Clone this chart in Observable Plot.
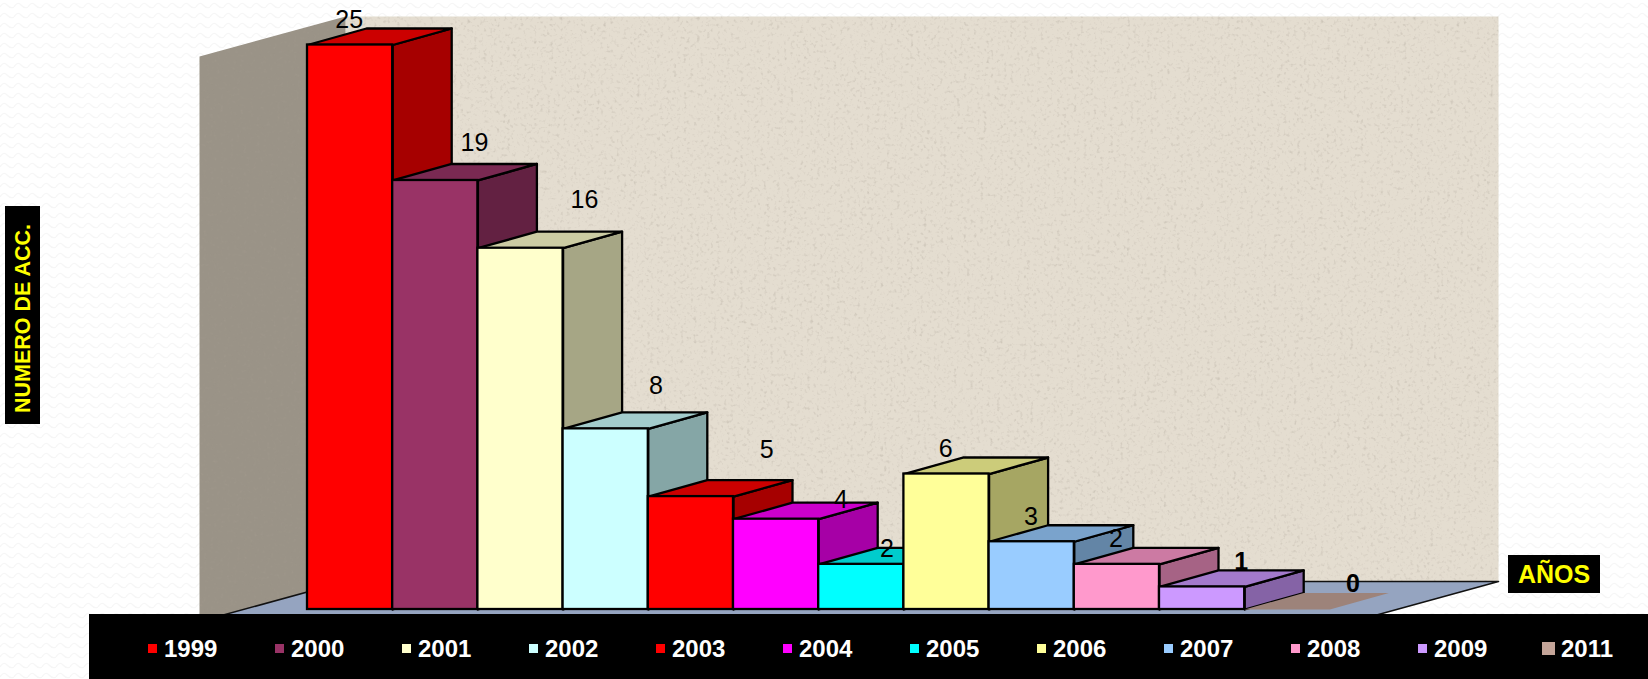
<!DOCTYPE html>
<html><head><meta charset="utf-8">
<script src="https://cdn.jsdelivr.net/npm/d3@7"></script>
<script src="https://cdn.jsdelivr.net/npm/@observablehq/plot@0.6"></script>
<style>
html,body{margin:0;padding:0;width:1648px;height:679px;overflow:hidden;font-family:"Liberation Sans",Arial,sans-serif;
background-color:#fff;
background-image:url("data:image/svg+xml,%3Csvg xmlns='http://www.w3.org/2000/svg' width='14' height='10'%3E%3Cpath d='M0 7 Q3.5 1 7 5 T14 7' fill='none' stroke='%23f6f6f6' stroke-width='1.2'/%3E%3C/svg%3E");}
#chart{position:absolute;left:0;top:0}
.box{position:absolute;background:#000;color:#ff0;font-weight:700;display:flex;align-items:center;justify-content:center;white-space:nowrap}
#ytitle{left:5px;top:206px;width:35px;height:218px}
#ytitle span{transform:translate(1px,3px) rotate(-90deg);font-size:21.5px;display:block}
#xtitle{left:1508px;top:555px;width:92px;height:38px;font-size:25px}
#legend{position:absolute;left:89px;top:614px;width:1559px;height:65px;background:#000}
.item{position:absolute;top:0;height:65px;color:#fff;font-weight:700;font-size:24px}
.item i{position:absolute;display:block}
.item b{position:absolute;line-height:26px}
</style></head>
<body>
<svg width="0" height="0" style="position:absolute">
<defs><filter id="speckle" x="0" y="0" width="100%" height="100%">
<feTurbulence type="fractalNoise" baseFrequency="0.3" numOctaves="2" seed="7" result="n"/>
<feColorMatrix in="n" type="matrix" values="0 0 0 0 0.38  0 0 0 0 0.34  0 0 0 0 0.28  1.6 1.6 0 0 -1.68" result="s"/>
<feComponentTransfer in="s" result="t"><feFuncA type="table" tableValues="0 0.45"/></feComponentTransfer>
<feComposite in="t" in2="SourceAlpha" operator="in" result="c"/>
<feMerge><feMergeNode in="SourceGraphic"/><feMergeNode in="c"/></feMerge>
</filter></defs>
</svg>
<div id="chart"></div>
<div class="box" id="ytitle"><span>NUMERO DE ACC.</span></div>
<div class="box" id="xtitle">AÑOS</div>
<div id="legend"></div>
<script>
const years = ["1999","2000","2001","2002","2003","2004","2005","2006","2007","2008","2009","2011"];
const accidents = [25,19,16,8,5,4,2,6,3,2,1,0];
const colors = ["#FF0000","#993366","#FFFFCC","#CCFFFF","#FF0000","#FF00FF","#00FFFF","#FFFF99","#99CCFF","#FF99CC","#CC99FF","#C4A498"];
const labelShiftX = [-.01,.46,.75,.59,.89,.76,.3,-.01,-.01,-.01,.46,.77];
const labelShiftY = [1.1,1.68,2.15,1.92,2.08,.87,.66,1.09,1.1,1.14,1.12,1.15];

// layout: pixel geometry of the drawing → linear scales
const W=1648,H=679, x0=307, ux=85.2, y0=609, uy=22.58;
const depthX=59/ux, depthY=16.5/uy;
const px=p=>(p-x0)/ux, py=p=>(y0-p)/uy;
const shade=(c,k)=>{const r=d3.rgb(c);return d3.rgb(r.r*k,r.g*k,r.b*k).formatHex();};
const poly=(id,fill,pts)=>[...pts,pts[0]].map(([x,y])=>({id,fill,x,y}));
const face=(data,opts={})=>Plot.line(data,{x:"x",y:"y",z:"id",fill:"fill",stroke:"#000",strokeWidth:2.3,strokeLinejoin:"round",curve:"linear",...opts});

const wx0=199, wx1=345, wx2=1498, wTop=16, wFront=56, fy=581, fFront=621;
const backWall=poly("back","#E4DDD0",[[px(wx1),py(wTop)],[px(wx2),py(wTop)],[px(wx2),py(fy)],[px(wx1),py(fy)]]);
const sideWall=poly("side","#9A9387",[[px(wx0),py(wFront)],[px(wx1),py(wTop)],[px(wx1),py(fy)],[px(wx0),py(fFront)]]);
const floor=poly("floor","#95A4C0",[[px(wx1),py(fy)],[px(wx2),py(fy)],[px(wx2-145.5),py(fFront)],[px(wx0),py(fFront)]]);

const barMarks=accidents.map((v,i)=>{
  const c=colors[i];
  if(v===0) return face(poly("slab"+i,shade(c,.8),[[i,0],[i+depthX,depthY],[i+1+depthX,depthY],[i+1,0]]),{stroke:"none"});
  return [
    face(poly("side"+i,shade(c,.65),[[i+1,0],[i+1+depthX,depthY],[i+1+depthX,v+depthY],[i+1,v]])),
    face(poly("top"+i,shade(c,.8),[[i,v],[i+depthX,v+depthY],[i+1+depthX,v+depthY],[i+1,v]])),
    Plot.rectY([v],{x1:()=>i,x2:()=>i+1,y1:()=>0,y2:d=>d,fill:c,stroke:"#000",strokeWidth:2.3})
  ];
});
const labels=accidents.map((v,i)=>({v,i,x:i+.5+labelShiftX[i],y:v+labelShiftY[i]}));

const chart=Plot.plot({
  width:W,height:H,margin:0,
  style:{background:"transparent",fontFamily:'"Liberation Sans",Arial,sans-serif'},
  x:{type:"linear",domain:[px(0),px(W)],range:[0,W],axis:null},
  y:{type:"linear",domain:[py(0),py(H)],range:[0,H],axis:null},
  marks:[
    face(backWall,{stroke:"none",imageFilter:"url(#speckle)"}),
    face(sideWall,{stroke:"none",imageFilter:"url(#speckle)"}),
    face(floor,{strokeWidth:1.6,stroke:"#111"}),
    barMarks,
    Plot.text(labels.filter(d=>d.v>1),{x:"x",y:"y",text:d=>String(d.v),fontSize:25,fill:"#000",textAnchor:"middle"}),
    Plot.text(labels.filter(d=>d.v<=1),{x:"x",y:"y",text:d=>String(d.v),fontSize:25,fontWeight:700,fill:"#000",textAnchor:"middle"})
  ]
});
document.getElementById("chart").append(chart);

const legend=document.getElementById("legend");
years.forEach((y,i)=>{
  const big=i===years.length-1, left=148-89+127*i;
  const it=document.createElement("div");it.className="item";it.style.left=left+"px";
  const m=document.createElement("i");
  m.style.cssText=big?`left:-3px;top:28px;width:13px;height:13px;background:${colors[i]}`:`left:0;top:30px;width:9px;height:9px;background:${colors[i]}`;
  const t=document.createElement("b");t.textContent=y;t.style.left="16px";t.style.top="22px";
  it.append(m,t);legend.append(it);
});
</script>
</body></html>
